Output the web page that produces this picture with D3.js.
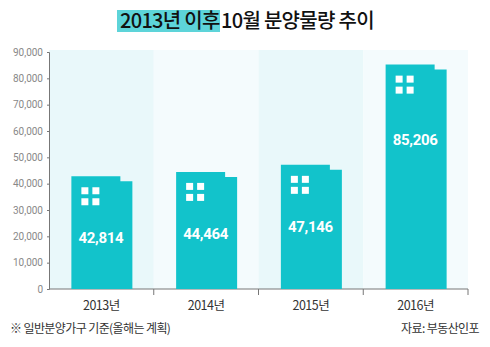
<!DOCTYPE html>
<meta charset="utf-8">
<html>
<style type="text/css">
  body { margin: 0; background: #fff; }
  text { font-family: "Noto Sans CJK KR", "Noto Sans", sans-serif; }
</style>
<script src="https://d3js.org/d3.v7.min.js"></script>
<body>
<svg id="chart" width="490" height="347"></svg>

<script>

// October supply volume per year
var years = ["2013년", "2014년", "2015년", "2016년"];
var supply = [42814, 44464, 47146, 85206];
var yTicks = [0, 10000, 20000, 30000, 40000, 50000, 60000, 70000, 80000, 90000];

var svg = d3.select("#chart");

var x = d3.scaleBand()
  .domain(years)
  .range([49, 468]);

var y = d3.scaleLinear()
  .domain([0, 90000])
  .range([289, 52]);

// alternating column backgrounds
svg.append("g")
  .selectAll("rect")
  .data(years)
  .enter()
  .append("rect")
    .attr("x", function (d) { return x(d); })
    .attr("y", 50)
    .attr("width", x.bandwidth())
    .attr("height", y(0) - 50)
    .attr("fill", function (d, i) { return i % 2 ? "#f4fbfd" : "#e9f8fa"; });

// title with highlighted lead
svg.append("rect")
  .attr("x", 117).attr("y", 10)
  .attr("width", 103).attr("height", 22)
  .attr("fill", "#5dd4d9");

svg.append("text")
  .attr("x", 120).attr("y", 28)
  .attr("font-size", 20)
  .attr("font-weight", 500)
  .attr("fill", "#111")
  .attr("letter-spacing", -0.7)
  .text("2013년 이후");

svg.append("text")
  .attr("x", 221).attr("y", 28)
  .attr("font-size", 20)
  .attr("font-weight", 500)
  .attr("fill", "#111")
  .attr("letter-spacing", -0.7)
  .text("10월 분양물량 추이");

// y axis
var yAxis = svg.append("g")
  .attr("transform", "translate(49,0)")
  .call(d3.axisLeft(y).tickValues(yTicks).tickSize(2).tickPadding(4).tickFormat(d3.format(",")));
yAxis.select(".domain").attr("stroke", "#777");
yAxis.selectAll(".tick line").attr("stroke", "#777");
yAxis.selectAll("text")
  .attr("fill", "#888")
  .attr("font-size", 10)
  .style("font-family", "Roboto, sans-serif");

// x axis with ticks at band boundaries
var xg = svg.append("g");
xg.append("line")
  .attr("x1", 49).attr("x2", 468)
  .attr("y1", y(0)).attr("y2", y(0))
  .attr("stroke", "#777");
xg.selectAll(".sep")
  .data(years)
  .enter()
  .append("line")
    .attr("class", "sep")
    .attr("x1", function (d) { return x(d) + x.bandwidth(); })
    .attr("x2", function (d) { return x(d) + x.bandwidth(); })
    .attr("y1", y(0)).attr("y2", y(0) + 6)
    .attr("stroke", "#777");
xg.selectAll(".lbl")
  .data(years)
  .enter()
  .append("text")
    .attr("class", "lbl")
    .attr("x", function (d) { return x(d) + x.bandwidth() / 2; })
    .attr("y", 310)
    .attr("text-anchor", "middle")
    .attr("font-size", 12.5)
    .attr("fill", "#333")
    .attr("letter-spacing", -0.5)
    .text(function (d) { return d; });

// building-shaped bars
var barW = 61, stepW = 12, stepH = 5;
var bars = svg.append("g")
  .selectAll("g")
  .data(years)
  .enter()
  .append("g")
    .attr("transform", function (d) { return "translate(" + (x(d) + (x.bandwidth() - barW) / 2 + 0.5) + ",0)"; });

bars.append("path")
  .attr("fill", "#12c3cb")
  .attr("d", function (d, i) {
    var top = y(supply[i]), base = y(0);
    return "M0," + base + "V" + top + "H" + (barW - stepW) + "V" + (top + stepH) +
      "H" + barW + "V" + base + "Z";
  });

// windows
var win = [[10, 11], [21, 11], [10, 22], [21, 22]];
bars.each(function (d, i) {
  var top = y(supply[i]);
  d3.select(this).selectAll("rect")
    .data(win)
    .enter()
    .append("rect")
      .attr("x", function (w) { return w[0]; })
      .attr("y", function (w) { return top + w[1]; })
      .attr("width", 7)
      .attr("height", 7)
      .attr("fill", "#fff");
});

bars.append("text")
  .attr("x", barW / 2 - 1)
  .attr("y", function (d, i) { return y(supply[i]) + (i === 3 ? 80 : 67); })
  .attr("text-anchor", "middle")
  .attr("font-size", 15)
  .attr("font-weight", "bold")
  .attr("fill", "#fff")
  .attr("letter-spacing", -0.3)
  .style("font-family", "Roboto, sans-serif")
  .text(function (d, i) { return d3.format(",")(supply[i]); });

// footnotes
svg.append("text")
  .attr("x", 10).attr("y", 333)
  .attr("font-size", 12)
  .attr("fill", "#333")
  .attr("letter-spacing", -0.6)
  .text("※ 일반분양가구 기준(올해는 계획)");

svg.append("text")
  .attr("x", 479).attr("y", 333)
  .attr("text-anchor", "end")
  .attr("font-size", 12)
  .attr("fill", "#333")
  .attr("letter-spacing", -0.6)
  .text("자료: 부동산인포");

</script>
</body>
</html>
